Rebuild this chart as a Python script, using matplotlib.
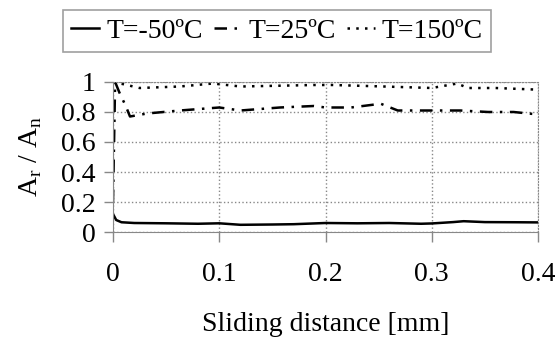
import matplotlib.pyplot as plt

plt.rcParams['font.family'] = ['Liberation Serif', 'DejaVu Serif']
plt.rcParams['mathtext.fontset'] = 'custom'
plt.rcParams['mathtext.rm'] = 'Liberation Serif'

# data
x_m50 = [0.0, 0.003, 0.008, 0.02, 0.05, 0.08, 0.1, 0.12, 0.15, 0.17, 0.2, 0.23, 0.26, 0.29, 0.3, 0.32, 0.33, 0.35, 0.38, 0.4]
a_m50 = [0.12, 0.08, 0.065, 0.06, 0.058, 0.055, 0.058, 0.048, 0.05, 0.052, 0.06, 0.058, 0.06, 0.055, 0.057, 0.066, 0.072, 0.066, 0.065, 0.064]

x_25 = [0.0, 0.002, 0.006, 0.012, 0.016, 0.032, 0.063, 0.1, 0.12, 0.157, 0.189, 0.2, 0.224, 0.252, 0.268, 0.302, 0.327, 0.353, 0.377, 0.398]
a_25 = [0.2, 1.0, 0.93, 0.84, 0.77, 0.79, 0.81, 0.83, 0.81, 0.83, 0.84, 0.83, 0.83, 0.855, 0.81, 0.81, 0.81, 0.80, 0.80, 0.785]

x_150 = [0.0, 0.01, 0.025, 0.063, 0.094, 0.12, 0.19, 0.207, 0.255, 0.3, 0.324, 0.334, 0.36, 0.396]
a_150 = [1.0, 0.985, 0.96, 0.97, 0.99, 0.97, 0.98, 0.98, 0.97, 0.96, 0.99, 0.96, 0.96, 0.95]

x_ticks = [0, 0.1, 0.2, 0.3, 0.4]
y_ticks = [0, 0.2, 0.4, 0.6, 0.8, 1]

fig = plt.figure(figsize=(5.55, 3.47), dpi=100)
ax = fig.add_axes([0.2036, 0.3314, 0.7658, 0.4323])

ax.plot(x_m50, a_m50, color='black', lw=1.8, ls='-', label='T=-50ºC')
ax.plot(x_25, a_25, color='black', lw=1.8, ls=(0, (5, 3, 1, 3)), label='T=25ºC')
ax.plot(x_150, a_150, color='black', lw=1.8, ls=(0, (1, 2.5)), label='T=150ºC')

ax.set_xlim(0, 0.4)
ax.set_ylim(0, 1)
ax.set_xticks(x_ticks)
ax.set_xticklabels(['0', '0.1', '0.2', '0.3', '0.4'])
ax.set_yticks(y_ticks)
ax.set_yticklabels(['0', '0.2', '0.4', '0.6', '0.8', '1'])
ax.tick_params(axis='both', labelsize=20, color='#888888', width=1)
ax.tick_params(axis='x', length=7.5, pad=14)
ax.tick_params(axis='y', length=6.5, pad=6)

ax.grid(True, ls=':', color='#888888', lw=1)
for s in ['top', 'right']:
    ax.spines[s].set_linestyle(':')
    ax.spines[s].set_color('#888888')
for s in ['left', 'bottom']:
    ax.spines[s].set_color('#888888')

ax.set_xlabel('Sliding distance [mm]', fontsize=20, labelpad=18)
ax.set_ylabel(r'A$_\mathrm{r}$ / A$_\mathrm{n}$', fontsize=20, labelpad=12)

leg = fig.legend(loc='center', bbox_to_anchor=(277 / 555, 1 - 31 / 347), ncol=3,
                 fontsize=20, frameon=True, fancybox=False, handlelength=1.0,
                 handletextpad=0.25, columnspacing=0.4, borderpad=0.3,
                 borderaxespad=0)
leg.get_frame().set_edgecolor('#888888')
leg.get_frame().set_linewidth(1.2)

fig.savefig('out.png', dpi=100)
